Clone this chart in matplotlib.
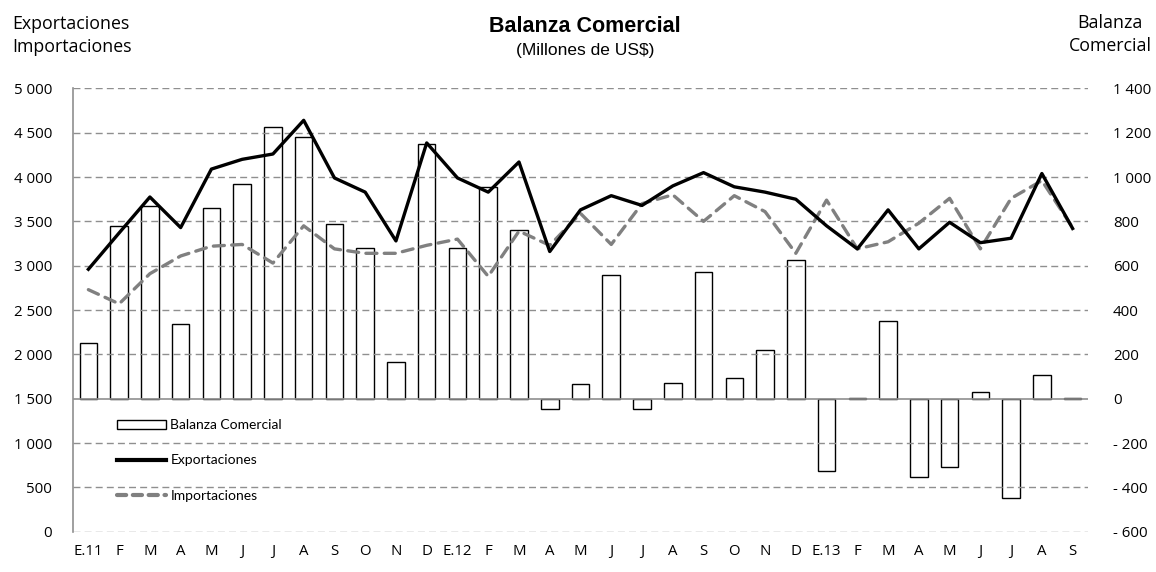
import matplotlib
matplotlib.use("Agg")
import matplotlib.pyplot as plt
from matplotlib.lines import Line2D
from matplotlib.patches import Patch
from matplotlib.ticker import FuncFormatter

# ---- data ----
months = ["E.11", "F", "M", "A", "M", "J", "J", "A", "S", "O", "N", "D",
          "E.12", "F", "M", "A", "M", "J", "J", "A", "S", "O", "N", "D",
          "E.13", "F", "M", "A", "M", "J", "J", "A", "S"]
exportaciones = [2960, 3370, 3775, 3430, 4090, 4200, 4260, 4640, 3990, 3830, 3280, 4385,
                 3990, 3830, 4170, 3160, 3630, 3790, 3680, 3900, 4050, 3890, 3830, 3750,
                 3450, 3190, 3630, 3190, 3490, 3260, 3310, 4040, 3420]
importaciones = [2730, 2570, 2910, 3110, 3220, 3240, 3030, 3450, 3190, 3140, 3140, 3230,
                 3300, 2880, 3390, 3230, 3590, 3240, 3700, 3800, 3500, 3790, 3610, 3140,
                 3740, 3190, 3270, 3480, 3760, 3190, 3760, 3960, 3430]
balanza = [250, 780, 870, 335, 860, 970, 1225, 1180, 790, 680, 165, 1150,
           680, 955, 760, -45, 65, 560, -45, 70, 570, 95, 220, 625,
           -325, 5, 350, -355, -310, 30, -450, 105, 5]
left_ticks = [0, 500, 1000, 1500, 2000, 2500, 3000, 3500, 4000, 4500, 5000]
right_ticks = [-600, -400, -200, 0, 200, 400, 600, 800, 1000, 1200, 1400]

FONT = ["Open Sans", "DejaVu Sans"]
LFONT = ["Lato", "DejaVu Sans"]
TFONT = ["Liberation Sans", "DejaVu Sans"]
GRID = "#8f8f8f"
GRAY = "#808080"

fig = plt.figure(figsize=(11.56, 5.72), dpi=100)
ax2 = fig.add_axes([73 / 1156, 1 - 531.7 / 572, (1088 - 73) / 1156, (531.7 - 88.4) / 572])
ax = ax2.twinx()
ax.yaxis.tick_left()
ax2.yaxis.tick_right()
ax.set_zorder(ax2.get_zorder() + 1)
ax.patch.set_visible(False)

x = list(range(len(months)))

# bars (right axis)
ax2.bar(x, balanza, width=0.57, facecolor="white", edgecolor="black", linewidth=1.0, zorder=2)
ax2.set_ylim(-600, 1400)
ax2.set_yticks(right_ticks)
ax2.yaxis.set_major_formatter(FuncFormatter(
    lambda v, p: ("- " if v < 0 else "") + f"{abs(int(v)):,}".replace(",", " ")))

# gridlines on the top axes
for t in left_ticks:
    if t == 1500:
        ax.axhline(t, color=GRID, lw=1.2, zorder=1)
    else:
        ax.axhline(t, color=GRID, lw=1.0, ls=(0, (5, 3)), zorder=1)

# lines (left axis)
ax.plot(x, importaciones, color=GRAY, lw=2.4, ls=(0, (3.3, 2.2)), dash_capstyle="round",
        solid_joinstyle="round", zorder=4)
ax.plot(x, exportaciones, color="black", lw=2.4, solid_joinstyle="round", zorder=5)
ax.set_ylim(0, 5000)
ax.set_yticks(left_ticks)
ax.yaxis.set_major_formatter(FuncFormatter(lambda v, p: f"{int(v):,}".replace(",", " ")))
ax.set_xlim(-0.5, len(months) - 0.5)
ax2.set_xlim(-0.5, len(months) - 0.5)
ax2.set_xticks(x)
ax2.set_xticklabels(months)

for a in (ax, ax2):
    for s in a.spines.values():
        s.set_visible(False)
ax.spines["left"].set_visible(True)
ax.spines["left"].set_color(GRID)
ax.spines["left"].set_linewidth(1.2)

ax.tick_params(axis="y", length=0, pad=15, labelsize=10.8, labelcolor="black")
ax2.tick_params(axis="y", length=0, pad=18, labelsize=10.8)
ax2.tick_params(axis="x", length=0, pad=9, labelsize=10.8)
ax.tick_params(axis="x", length=0, labelbottom=False)
for lab in ax.get_yticklabels() + ax2.get_yticklabels() + ax2.get_xticklabels():
    lab.set_family(FONT)

# titles
fig.text(585 / 1156, 1 - 26 / 572, "Balanza Comercial", ha="center", va="center",
         fontsize=15.5, fontweight="bold", family=TFONT)
fig.text(585 / 1156, 1 - 51 / 572, "(Millones de US$)", ha="center", va="center",
         fontsize=12.5, family=TFONT)
fig.text(12 / 1156, 1 - 24 / 572, "Exportaciones", ha="left", va="center",
         fontsize=12.8, family=FONT)
fig.text(12 / 1156, 1 - 47 / 572, "Importaciones", ha="left", va="center",
         fontsize=12.8, family=FONT)
fig.text(1110 / 1156, 1 - 23 / 572, "Balanza", ha="center", va="center",
         fontsize=12.8, family=FONT)
fig.text(1110 / 1156, 1 - 46 / 572, "Comercial", ha="center", va="center",
         fontsize=12.8, family=FONT)

# legend
handles = [Patch(facecolor="white", edgecolor="black", linewidth=1.0),
           Line2D([], [], color="black", lw=3.0),
           Line2D([], [], color=GRAY, lw=3.0, ls=(0, (2.2, 1.6)), dash_capstyle="round")]
labels = ["Balanza Comercial", "Exportaciones", "Importaciones"]
leg = fig.legend(handles, labels, loc="upper left",
                 bbox_to_anchor=(117 / 1156, 1 - 419 / 572), frameon=False,
                 prop={"family": LFONT, "size": 10}, handlelength=3.5, handleheight=0.6,
                 handletextpad=0.35, labelspacing=1.68, borderpad=0, borderaxespad=0)

fig.savefig("out.png", dpi=100)
